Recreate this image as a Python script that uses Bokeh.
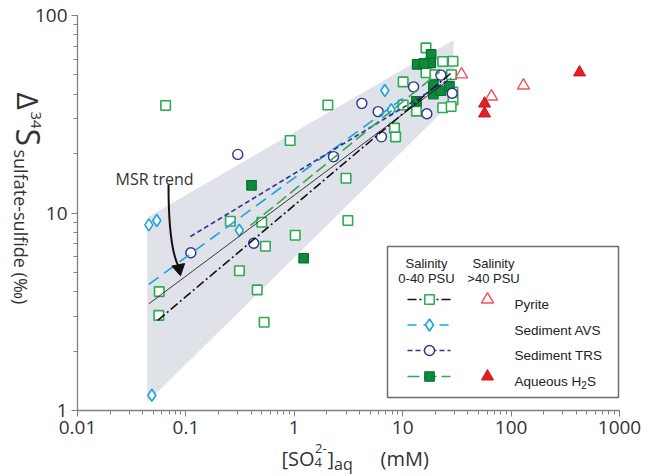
import math
from bokeh.plotting import figure
from bokeh.models import Range1d, LinearScale, Label, LogTicker, CustomJSTickFormatter
from bokeh.embed import file_html
from bokeh.resources import INLINE

# ---------------- data ----------------
# Pyrite, salinity 0-40 PSU (open green squares)
pyrite_x = [0.916, 0.257, 0.501, 3.12, 1.02, 0.542, 0.312, 0.455, 0.0568, 0.0562, 0.527,
            16.4, 23.4, 29.1, 16.4, 19.8, 28.2, 10.1, 29.1, 23.4, 28.0, 13.4, 10.1, 8.4, 8.6,
            2.04, 29.0, 3.0, 0.065]
pyrite_y = [23.3, 9.09, 8.98, 9.17, 7.72, 6.79, 5.10, 4.08, 4.0, 3.03, 2.80,
            68.6, 58.5, 58.7, 51.3, 50.1, 50.1, 46.1, 37.4, 34.1, 34.6, 32.8, 35.2, 26.9, 24.3,
            35.2, 41.0, 15.0, 35.0]
# Sediment AVS (cyan diamonds)
avs_x = [6.84, 7.83, 0.0455, 0.0539, 0.311, 0.0485]
avs_y = [41.7, 33.3, 8.71, 9.17, 8.18, 1.195]
# Sediment TRS (navy circles)
trs_x = [22.5, 12.6, 28.6, 16.7, 4.20, 5.94, 6.37, 2.30, 0.301, 0.422, 0.111]
trs_y = [49.9, 43.5, 40.4, 31.8, 35.9, 32.6, 24.3, 19.3, 19.8, 7.03, 6.29]
# Aqueous H2S, salinity 0-40 PSU (filled green squares)
h2s_x = [0.403, 1.22, 18.3, 18.1, 13.6, 15.7, 19.2, 19.2, 22.6, 27.0, 13.4]
h2s_y = [13.8, 5.9, 63.5, 57.6, 56.5, 57.2, 44.6, 40.0, 41.6, 43.8, 36.8]
# Salinity >40 PSU
pyrite_hi_x = [34.9, 130.0, 65.9]
pyrite_hi_y = [50.3, 44.2, 38.9]
h2s_hi_x = [428.0, 56.9, 56.9]
h2s_hi_y = [51.5, 35.8, 31.9]

# Regression / trend lines (end points)
msr_x, msr_y = [0.0455, 25.0], [3.47, 46.0]
pyr_fit_x, pyr_fit_y = [0.055, 29.0], [2.86, 52.0]
avs_fit_x, avs_fit_y = [0.0455, 10.0], [4.35, 38.0]
trs_fit_x, trs_fit_y = [0.110, 28.0], [7.6, 48.0]
h2s_fit_x, h2s_fit_y = [0.394, 22.0], [8.65, 52.0]

# Shaded envelope
env_x = [0.044, 29.4, 29.4, 0.044]
env_y = [9.5, 75.0, 37.0, 1.1]

x_bounds = (0.01, 1000)
y_bounds = (1, 100)

# ---------------- colours ----------------
C_GREEN = "#2eaa52"
C_GREEN_D = "#0d8a3a"
C_CYAN = "#1ba3dc"
C_NAVY = "#2e3192"
C_RED = "#e31e24"
C_RED_O = "#f0505a"
C_ENV = "#dfe2e9"
C_TXT = "#333333"

# ---------------- layout (pixels) ----------------
W, H = 653, 476
FX0, FX1 = 77, 619      # pixel position of x_bounds
FY0, FY1 = 410, 15      # pixel position of y_bounds
dec_x = (FX1 - FX0) / math.log10(x_bounds[1] / x_bounds[0])
dec_y = (FY0 - FY1) / math.log10(y_bounds[1] / y_bounds[0])
x_lo = 10 ** (math.log10(x_bounds[0]) - FX0 / dec_x)
x_hi = 10 ** (math.log10(x_bounds[1]) + (W - FX1) / dec_x)
y_lo = 10 ** (math.log10(y_bounds[0]) - (H - FY0) / dec_y)
y_hi = 10 ** (math.log10(y_bounds[1]) + FY1 / dec_y)

p = figure(width=W, height=H, x_axis_type="log", y_axis_type="log",
           x_range=Range1d(x_lo, x_hi), y_range=Range1d(y_lo, y_hi),
           output_backend="svg", toolbar_location=None, min_border=0)
p.extra_x_ranges = {"px": Range1d(0, W)}
p.extra_y_ranges = {"py": Range1d(H, 0)}
p.extra_x_scales = {"px": LinearScale()}
p.extra_y_scales = {"py": LinearScale()}

p.outline_line_color = None
p.grid.visible = False
p.background_fill_color = "white"
p.border_fill_color = "white"

p.xaxis[0].ticker = LogTicker(desired_num_ticks=6, num_minor_ticks=10)
p.yaxis[0].ticker = LogTicker(desired_num_ticks=3, num_minor_ticks=10)
p.xaxis.fixed_location = y_bounds[0]
p.yaxis.fixed_location = x_bounds[0]
p.xaxis.bounds = x_bounds
p.yaxis.bounds = y_bounds
for ax in (p.xaxis[0], p.yaxis[0]):
    ax.axis_line_color = "#808080"
    ax.axis_line_width = 1.3
    ax.major_tick_line_color = "#808080"
    ax.minor_tick_line_color = "#808080"
    ax.major_tick_in = 0
    ax.major_tick_out = 6
    ax.minor_tick_in = 0
    ax.minor_tick_out = 4
    ax.major_label_text_font = "Open Sans"
    ax.major_label_text_font_size = "19px"
    ax.major_label_text_color = C_TXT
    ax.major_label_standoff = 4
    ax.formatter = CustomJSTickFormatter(code="return tick.toString()")

# envelope
p.patch(env_x, env_y, fill_color=C_ENV, line_color=None)

# points
p.scatter(pyrite_x, pyrite_y, marker="square", size=9.5, fill_color="white",
          line_color=C_GREEN, line_width=1.6)
p.scatter(h2s_x, h2s_y, marker="square", size=9.5, fill_color=C_GREEN_D,
          line_color="#0a6e2e", line_width=1.2)
p.scatter(trs_x, trs_y, marker="circle", size=10, fill_color="white",
          line_color=C_NAVY, line_width=1.4)
p.scatter(avs_x, avs_y, marker="diamond", size=12, fill_color="white",
          line_color=C_CYAN, line_width=1.6)
p.scatter(pyrite_hi_x, pyrite_hi_y, marker="triangle", size=12, fill_color="white",
          line_color=C_RED_O, line_width=1.4)
p.scatter(h2s_hi_x, h2s_hi_y, marker="triangle", size=12, fill_color=C_RED,
          line_color="#c8141b", line_width=1)

# lines
p.line(msr_x, msr_y, line_color="#222222", line_width=0.9)
p.line(pyr_fit_x, pyr_fit_y, line_color="#111111", line_width=1.6, line_dash="9 3 2 3")
p.line(avs_fit_x, avs_fit_y, line_color=C_CYAN, line_width=1.6, line_dash="12 7")
p.line(trs_fit_x, trs_fit_y, line_color=C_NAVY, line_width=1.6, line_dash="5 3")
p.line(h2s_fit_x, h2s_fit_y, line_color=C_GREEN, line_width=1.6, line_dash="12 5")

PX = dict(x_range_name="px", y_range_name="py")


def txt(x, y, s, size, font="Open Sans", align="left", base="alphabetic", angle=0.0,
        color=C_TXT, style="normal"):
    p.add_layout(Label(x=x, y=y, text=s, text_font=font, text_font_size=f"{size}px",
                       text_align=align, text_baseline=base, angle=angle,
                       text_color=color, text_font_style=style, **PX))


# MSR trend annotation
txt(115, 178, "MSR trend", 16)
p.bezier(x0=[168], y0=[184], x1=[178], y1=[266], cx0=[168], cy0=[225], cx1=[171], cy1=[252],
         line_color="#111111", line_width=2, **PX)
p.scatter(x=[178.5], y=[268], marker="triangle", size=13, angle=math.pi + 0.2,
          fill_color="#111111", line_color="#111111", **PX)

# legend box
p.quad(left=[387], right=[618], top=[246], bottom=[397], fill_color="white",
       line_color="#6d6d6d", line_width=1.5, **PX)
LF = "Liberation Sans"
LC = "#222222"
txt(426, 263, "Salinity", 13, font=LF, align="center", color=LC)
txt(426, 278, "0-40 PSU", 13, font=LF, align="center", color=LC)
txt(493, 263, "Salinity", 13, font=LF, align="center", color=LC)
txt(493, 278, ">40 PSU", 13, font=LF, align="center", color=LC)

rows = [299, 324.5, 350, 376]
lx0, lx1, lm, tx, lab = 407, 450, 429, 487, 514
p.line([lx0, lx1], [rows[0]] * 2, line_color="#111111", line_width=1.6, line_dash="9 3 2 3", **PX)
p.scatter([lm], [rows[0]], marker="square", size=9.5, fill_color="white", line_color=C_GREEN,
          line_width=1.6, **PX)
p.scatter([tx], [rows[0]], marker="triangle", size=12, fill_color="white", line_color=C_RED_O,
          line_width=1.4, **PX)
p.line([lx0, lx1], [rows[1]] * 2, line_color=C_CYAN, line_width=1.6, line_dash="9 7", **PX)
p.scatter([lm], [rows[1]], marker="diamond", size=12, fill_color="white", line_color=C_CYAN,
          line_width=1.6, **PX)
p.line([lx0, lx1], [rows[2]] * 2, line_color=C_NAVY, line_width=1.6, line_dash="5 3", **PX)
p.scatter([lm], [rows[2]], marker="circle", size=10, fill_color="white", line_color=C_NAVY,
          line_width=1.4, **PX)
p.line([lx0, lx1], [rows[3]] * 2, line_color=C_GREEN, line_width=1.6, line_dash="12 5", **PX)
p.scatter([lm], [rows[3]], marker="square", size=9.5, fill_color=C_GREEN_D, line_color="#0a6e2e",
          line_width=1.2, **PX)
p.scatter([tx], [rows[3]], marker="triangle", size=12, fill_color=C_RED, line_color="#c8141b",
          line_width=1, **PX)

for yy, s in zip(rows[:3], ["Pyrite", "Sediment AVS", "Sediment TRS"]):
    txt(lab, yy + 5, s, 13.5, font=LF, color=LC)
txt(lab, rows[3] + 5, "Aqueous H", 13.5, font=LF, color=LC)
txt(lab + 66.8, rows[3] + 8, "2", 10, font=LF, color=LC)
txt(lab + 72.5, rows[3] + 5, "S", 13.5, font=LF, color=LC)

# x axis label
xb = 458
txt(281, xb, "[SO", 20)
txt(314, xb + 4, "4", 13)
txt(314.5, xb - 10, "2-", 13)
txt(327, xb, "]", 20)
txt(333.5, xb + 5, "aq", 16)
txt(380, xb, "(mM)", 20)

# y axis label (rotated clockwise, reads top to bottom)
a = -math.pi / 2
txt(28, 92, "Δ", 30, angle=a, base="middle")
txt(35, 111, "34", 15, angle=a, base="middle")
txt(28, 128, "S", 32, angle=a, base="middle")
txt(20, 149, "sulfate-sulfide  (‰)", 18, angle=a, base="middle")

open("out.html", "w").write(file_html(p, INLINE))
